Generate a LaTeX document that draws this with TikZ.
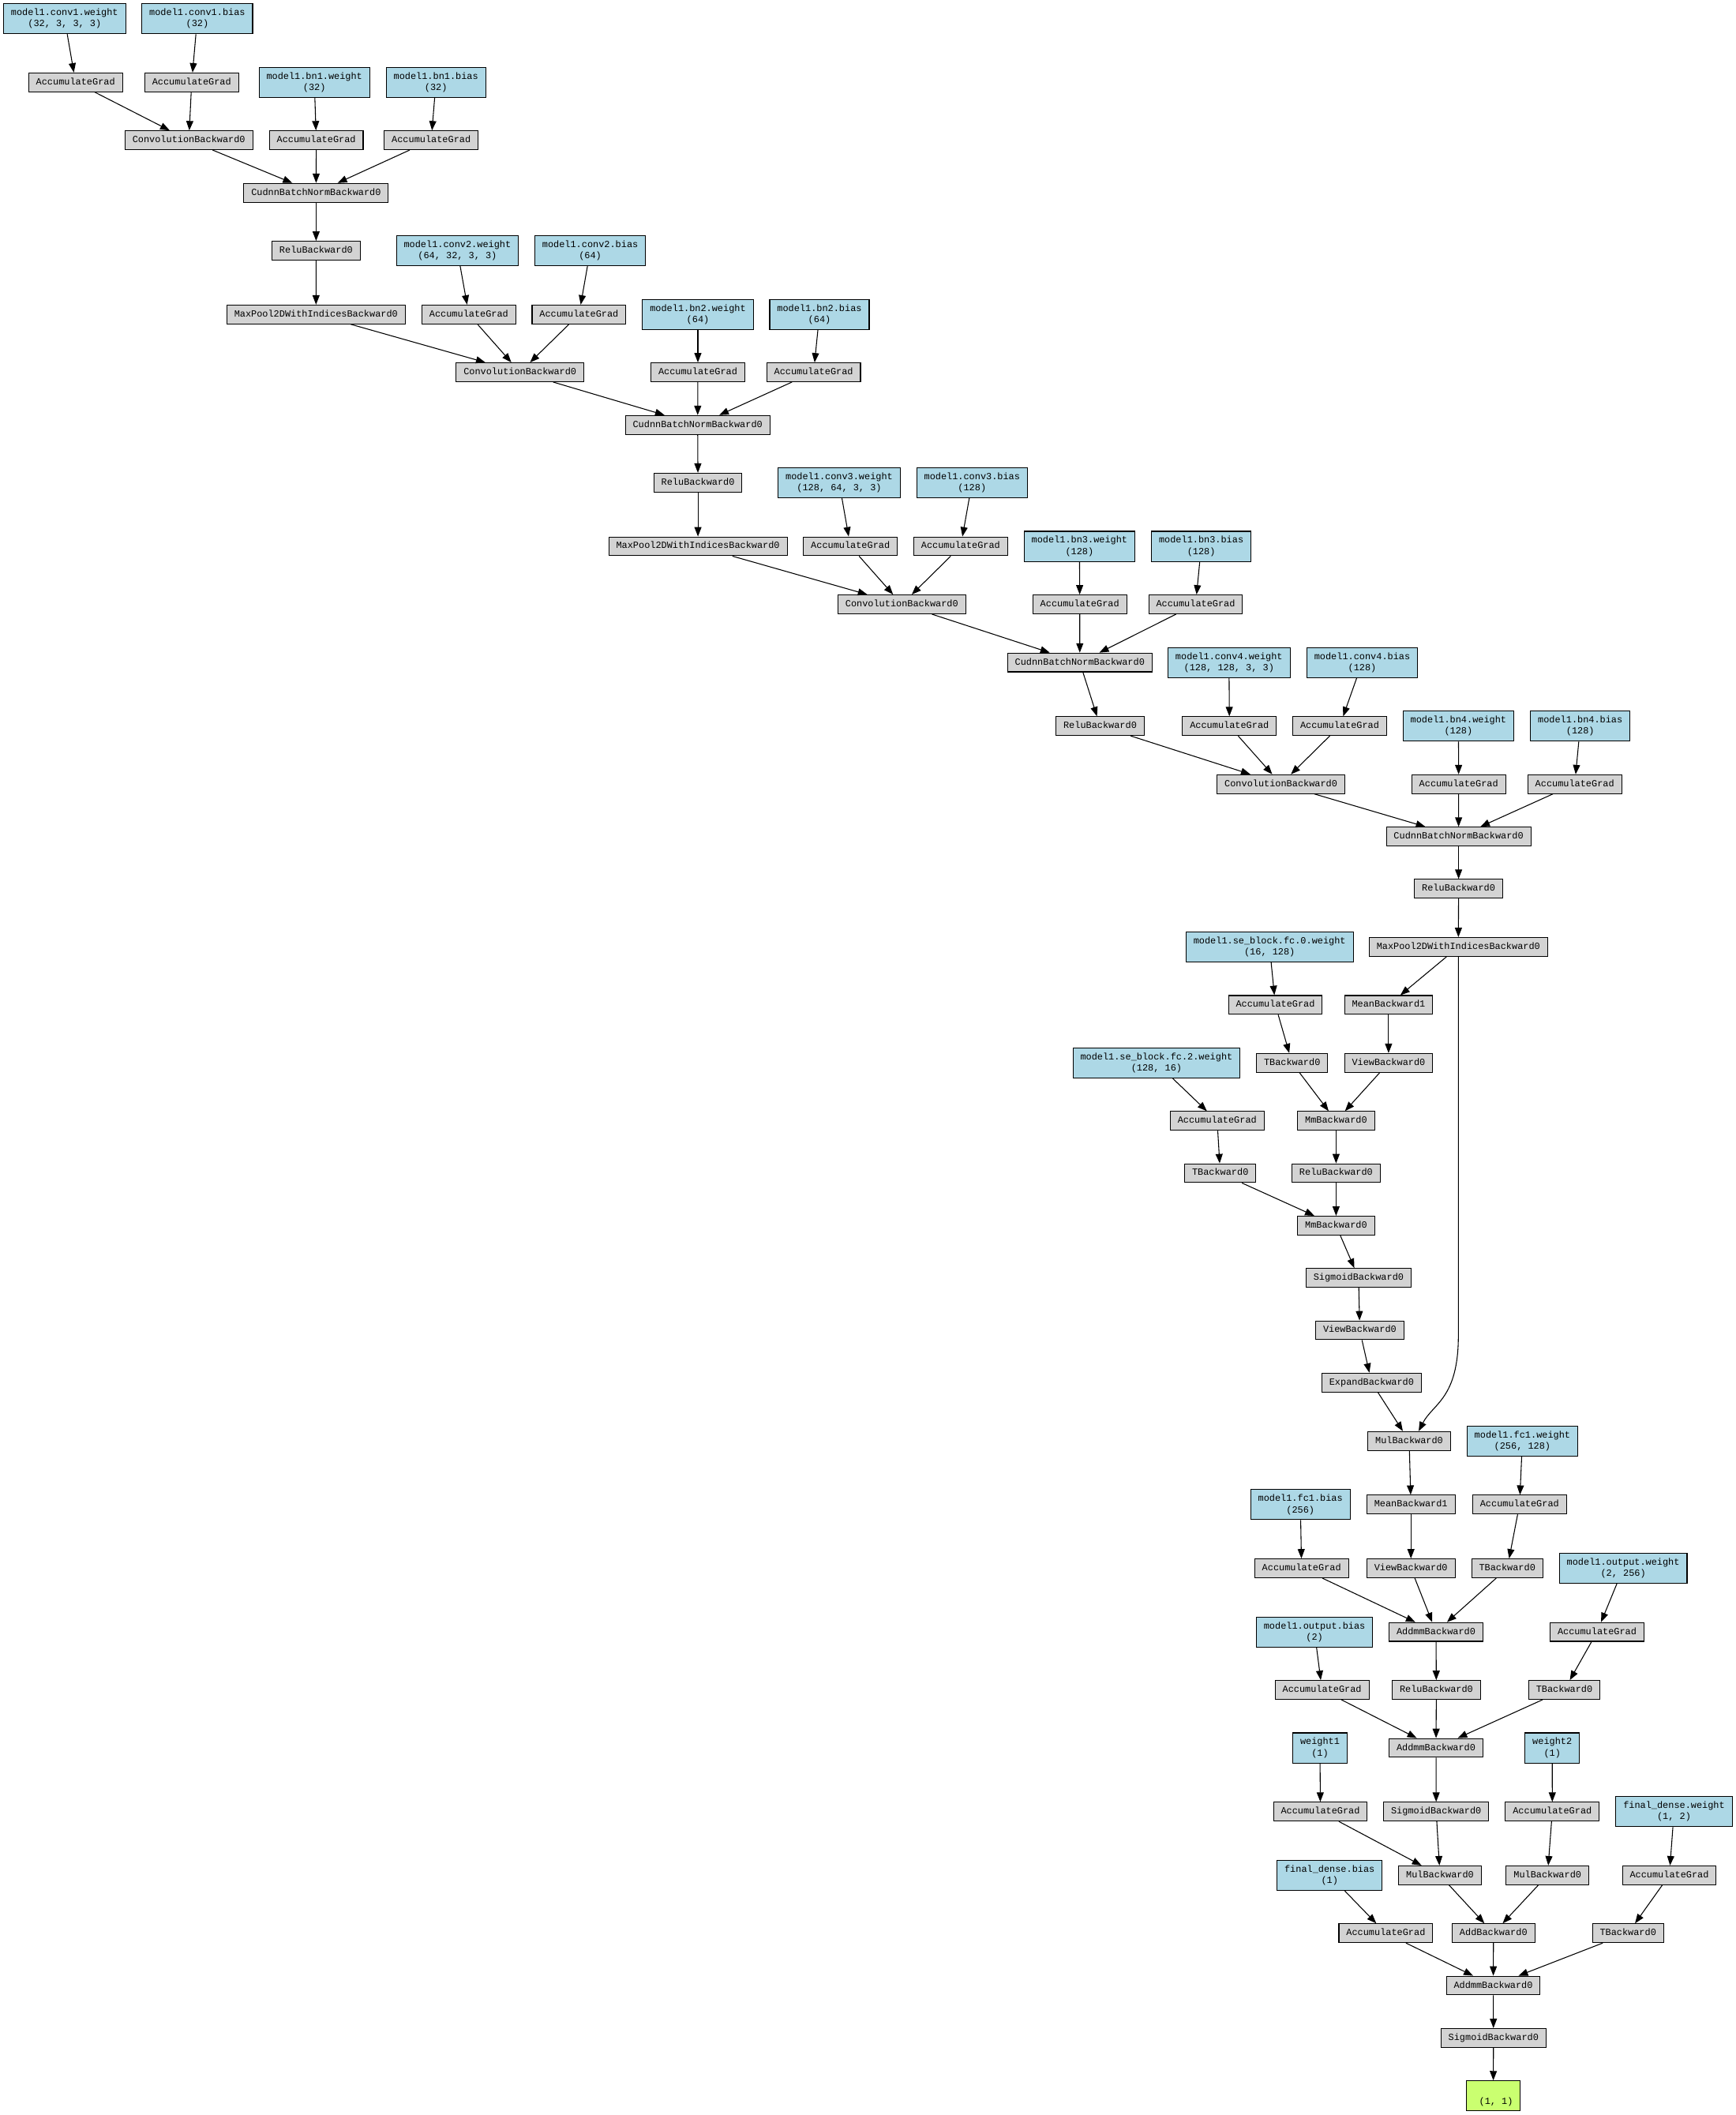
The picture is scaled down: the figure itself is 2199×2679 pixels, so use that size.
\documentclass[tikz,border=0pt]{standalone}
\usepackage{fontspec}
\setmainfont{Liberation Mono}
\usetikzlibrary{arrows.meta,calc}
\definecolor{gfill}{HTML}{D3D3D3}
\definecolor{bfill}{HTML}{ADD8E6}
\definecolor{ofill}{HTML}{CAFF70}
\begin{document}
\begin{tikzpicture}[x=0.8403pt,y=-0.8403pt,
  basebox/.style={draw=black,line width=0.9pt,rectangle,inner xsep=7.92pt,inner ysep=0pt,
    font=\fontsize{10}{12}\selectfont},
  opbox/.style={basebox,fill=gfill,minimum height=20pt,text height=7.5pt,text depth=2.5pt},
  parambox/.style={basebox,fill=bfill,minimum height=32pt,align=center},
  outbox/.style={basebox,fill=ofill,minimum height=32pt,minimum width=57.84pt,align=center},
  flow/.style={line width=0.9pt,-{Triangle[length=10pt,width=7.5pt]}}]

\fill[white] (0,0) rectangle (2199,2679);
\useasboundingbox (0,0) rectangle (2199,2679);

% block 1
\node[parambox] (c1w) at (81.8,23.7) {model1.conv1.weight\\(32, 3, 3, 3)};
\node[parambox] (c1b) at (249.9,23.7) {model1.conv1.bias\\(32)};
\node[opbox] (a1) at (95.7,104.3) {AccumulateGrad};
\node[opbox] (a2) at (242.8,104.3) {AccumulateGrad};
\node[parambox] (bn1w) at (398.2,104.3) {model1.bn1.weight\\(32)};
\node[parambox] (bn1b) at (552.2,104.3) {model1.bn1.bias\\(32)};
\node[opbox] (conv1) at (239.2,177.6) {ConvolutionBackward0};
\node[opbox] (a3) at (400.6,177.6) {AccumulateGrad};
\node[opbox] (a4) at (546.2,177.6) {AccumulateGrad};
\node[opbox] (bn1) at (400.4,244.2) {CudnnBatchNormBackward0};
\node[opbox] (relu1) at (400.4,317.5) {ReluBackward0};

% block 2
\node[parambox] (c2w) at (579.4,317.5) {model1.conv2.weight\\(64, 32, 3, 3)};
\node[parambox] (c2b) at (747.6,317.5) {model1.conv2.bias\\(64)};
\node[opbox] (mp1) at (400.3,398.3) {MaxPool2DWithIndicesBackward0};
\node[opbox] (a5) at (593.9,398.3) {AccumulateGrad};
\node[opbox] (a6) at (733.4,398.3) {AccumulateGrad};
\node[parambox] (bn2w) at (884.0,398.3) {model1.bn2.weight\\(64)};
\node[parambox] (bn2b) at (1038.0,398.3) {model1.bn2.bias\\(64)};
\node[opbox] (conv2) at (658.7,471.5) {ConvolutionBackward0};
\node[opbox] (a7) at (884.0,471.5) {AccumulateGrad};
\node[opbox] (a8) at (1030.6,471.5) {AccumulateGrad};
\node[opbox] (bn2) at (883.7,538.2) {CudnnBatchNormBackward0};
\node[opbox] (relu2) at (884.1,611.3) {ReluBackward0};

% block 3
\node[parambox] (c3w) at (1063.0,611.3) {model1.conv3.weight\\(128, 64, 3, 3)};
\node[parambox] (c3b) at (1231.3,611.3) {model1.conv3.bias\\(128)};
\node[opbox] (mp2) at (884.1,692.0) {MaxPool2DWithIndicesBackward0};
\node[opbox] (a9) at (1077.2,692.0) {AccumulateGrad};
\node[opbox] (a10) at (1216.9,692.0) {AccumulateGrad};
\node[parambox] (bn3w) at (1367.4,692.0) {model1.bn3.weight\\(128)};
\node[parambox] (bn3b) at (1521.6,692.0) {model1.bn3.bias\\(128)};
\node[opbox] (conv3) at (1142.3,765.5) {ConvolutionBackward0};
\node[opbox] (a11) at (1367.7,765.5) {AccumulateGrad};
\node[opbox] (a12) at (1514.5,765.5) {AccumulateGrad};
\node[opbox] (bn3) at (1367.8,839.1) {CudnnBatchNormBackward0};

% block 4
\node[parambox] (c4w) at (1556.8,839.1) {model1.conv4.weight\\(128, 128, 3, 3)};
\node[parambox] (c4b) at (1725.5,839.1) {model1.conv4.bias\\(128)};
\node[opbox] (relu3) at (1393.5,919.7) {ReluBackward0};
\node[opbox] (a13) at (1557.3,919.7) {AccumulateGrad};
\node[opbox] (a14) at (1697.0,919.7) {AccumulateGrad};
\node[parambox] (bn4w) at (1847.4,919.7) {model1.bn4.weight\\(128)};
\node[parambox] (bn4b) at (2001.7,919.7) {model1.bn4.bias\\(128)};
\node[opbox] (conv4) at (1622.6,993.2) {ConvolutionBackward0};
\node[opbox] (a15) at (1847.7,993.2) {AccumulateGrad};
\node[opbox] (a16) at (1994.7,993.2) {AccumulateGrad};
\node[opbox] (bn4) at (1847.6,1059.6) {CudnnBatchNormBackward0};
\node[opbox] (relu4) at (1847.6,1125.7) {ReluBackward0};
\node[opbox] (mp4) at (1847.3,1199.4) {MaxPool2DWithIndicesBackward0};

% squeeze-excitation branch
\node[parambox] (sew0) at (1608.2,1199.4) {model1.se\_block.fc.0.weight\\(16, 128)};
\node[opbox] (a17) at (1615.5,1272.9) {AccumulateGrad};
\node[opbox] (mean1) at (1758.9,1272.9) {MeanBackward1};
\node[parambox] (sew2) at (1464.9,1346.3) {model1.se\_block.fc.2.weight\\(128, 16)};
\node[opbox] (t1) at (1636.7,1346.3) {TBackward0};
\node[opbox] (view1) at (1758.9,1346.3) {ViewBackward0};
\node[opbox] (a18) at (1541.8,1419.8) {AccumulateGrad};
\node[opbox] (mm1) at (1692.4,1419.8) {MmBackward0};
\node[opbox] (t2) at (1545.7,1486.0) {TBackward0};
\node[opbox] (relu5) at (1692.4,1486.0) {ReluBackward0};
\node[opbox] (mm2) at (1692.4,1552.4) {MmBackward0};
\node[opbox] (sig1) at (1720.9,1618.6) {SigmoidBackward0};
\node[opbox] (view2) at (1722.4,1685.0) {ViewBackward0};
\node[opbox] (expand) at (1737.4,1751.2) {ExpandBackward0};
\node[opbox] (mul1) at (1785.0,1825.2) {MulBackward0};

% fully connected head
\node[parambox] (fc1w) at (1928.4,1825.2) {model1.fc1.weight\\(256, 128)};
\node[parambox] (fc1b) at (1647.2,1905.8) {model1.fc1.bias\\(256)};
\node[opbox] (mean2) at (1787.2,1905.8) {MeanBackward1};
\node[opbox] (a19) at (1924.8,1905.8) {AccumulateGrad};
\node[opbox] (a20) at (1648.7,1986.5) {AccumulateGrad};
\node[opbox] (view3) at (1787.2,1986.5) {ViewBackward0};
\node[opbox] (t3) at (1909.2,1986.5) {TBackward0};
\node[parambox] (outw) at (2056.1,1986.5) {model1.output.weight\\(2, 256)};
\node[parambox] (outb) at (1665.1,2067.1) {model1.output.bias\\(2)};
\node[opbox] (addmm1) at (1819.0,2067.1) {AddmmBackward0};
\node[opbox] (a21) at (2023.0,2067.1) {AccumulateGrad};
\node[opbox] (a22) at (1674.6,2140.5) {AccumulateGrad};
\node[opbox] (relu6) at (1819.4,2140.5) {ReluBackward0};
\node[opbox] (t4) at (1981.5,2140.5) {TBackward0};
\node[parambox] (w1) at (1672.0,2214.0) {weight1\\(1)};
\node[opbox] (addmm2) at (1819.0,2214.0) {AddmmBackward0};
\node[parambox] (w2) at (1966.2,2214.0) {weight2\\(1)};
\node[opbox] (a23) at (1672.5,2294.7) {AccumulateGrad};
\node[opbox] (sig2) at (1819.2,2294.7) {SigmoidBackward0};
\node[opbox] (a24) at (1966.3,2294.7) {AccumulateGrad};
\node[parambox] (fdw) at (2120.5,2294.7) {final\_dense.weight\\(1, 2)};
\node[parambox] (fdb) at (1684.2,2375.3) {final\_dense.bias\\(1)};
\node[opbox] (mul2) at (1824.0,2375.3) {MulBackward0};
\node[opbox] (mul3) at (1960.2,2375.3) {MulBackward0};
\node[opbox] (a25) at (2114.5,2375.3) {AccumulateGrad};
\node[opbox] (a26) at (1755.4,2448.7) {AccumulateGrad};
\node[opbox] (add1) at (1891.8,2448.7) {AddBackward0};
\node[opbox] (t5) at (2062.2,2448.7) {TBackward0};
\node[opbox] (addmm3) at (1891.5,2515.0) {AddmmBackward0};
\node[opbox] (sig3) at (1891.8,2581.3) {SigmoidBackward0};
\node[outbox] (res) at (1891.5,2654.7) {\strut\\\hspace*{6pt}(1, 1)};

% straight connectors
\foreach \s/\t in {c1w/a1, c1b/a2, a1/conv1, a2/conv1, bn1w/a3, bn1b/a4,
  conv1/bn1, a3/bn1, a4/bn1, bn1/relu1, relu1/mp1,
  c2w/a5, c2b/a6, mp1/conv2, a5/conv2, a6/conv2, bn2w/a7, bn2b/a8,
  conv2/bn2, a7/bn2, a8/bn2, bn2/relu2, relu2/mp2,
  c3w/a9, c3b/a10, mp2/conv3, a9/conv3, a10/conv3, bn3w/a11, bn3b/a12,
  conv3/bn3, a11/bn3, a12/bn3, bn3/relu3,
  c4w/a13, c4b/a14, relu3/conv4, a13/conv4, a14/conv4, bn4w/a15, bn4b/a16,
  conv4/bn4, a15/bn4, a16/bn4, bn4/relu4, relu4/mp4,
  mp4/mean1, sew0/a17, a17/t1, mean1/view1, t1/mm1, view1/mm1,
  sew2/a18, a18/t2, mm1/relu5, t2/mm2, relu5/mm2, mm2/sig1, sig1/view2,
  view2/expand, expand/mul1,
  mul1/mean2, fc1w/a19, mean2/view3, a19/t3, fc1b/a20,
  a20/addmm1, view3/addmm1, t3/addmm1, outw/a21, a21/t4, outb/a22,
  addmm1/relu6, a22/addmm2, relu6/addmm2, t4/addmm2,
  w1/a23, addmm2/sig2, w2/a24, fdw/a25, a23/mul2, sig2/mul2, a24/mul3,
  fdb/a26, mul2/add1, mul3/add1, a25/t5,
  a26/addmm3, add1/addmm3, t5/addmm3, addmm3/sig3, sig3/res}
  \draw[flow] (\s) -- (\t);

% long skip connection from the pooled features to the multiplication
\draw[flow] (mp4.south) -- ($(mp4.south)+(0,480)$)
  .. controls ($(mp4.south)+(0,560)$) and ($(mul1.north)+(30,-35)$) .. ($(mul1.north)+(12,0)$);

\end{tikzpicture}
\end{document}
